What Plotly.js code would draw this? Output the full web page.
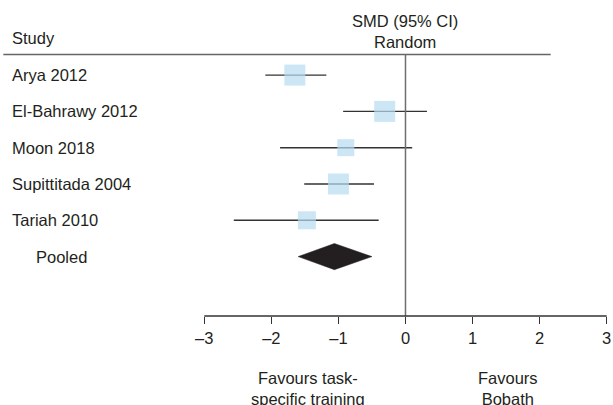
<!DOCTYPE html>
<html>
<head>
<meta charset="utf-8">
<script src="https://cdn.plot.ly/plotly-3.0.1.min.js"></script>
<style>html,body{margin:0;padding:0;background:#fff;}#chart{width:613px;height:405px;}</style>
</head>
<body>
<div id="chart"></div>
<script>
// ---- data ----
const studies = ["Arya 2012", "El-Bahrawy 2012", "Moon 2018", "Supittitada 2004", "Tariah 2010"];
const smd     = [-1.65, -0.31, -0.89, -1.00, -1.47];
const ciLow   = [-2.09, -0.93, -1.87, -1.51, -2.56];
const ciHigh  = [-1.18,  0.32,  0.10, -0.47, -0.40];
const squareSizes = [21, 21, 17, 21, 18];
const pooledLabel = "Pooled";
const pooledSMD  = -1.06;
const pooledLow  = -1.60;
const pooledHigh = -0.50;
const tickVals  = [-3, -2, -1, 0, 1, 2, 3];
const tickText  = ["\u20133", "\u20132", "\u20131", "0", "1", "2", "3"];
const leftFavour  = "Favours task-<br>specific training";
const rightFavour = "Favours<br>Bobath";

// ---- build ----
const FONT = "Liberation Sans, Arial, sans-serif";
const FS = 16.5;
const TXT = "#231f20";
const rows = studies.map((_, i) => i);
const pooledRow = studies.length;

const traces = [];
// CI lines
const lx = [], ly = [];
rows.forEach(i => { lx.push(ciLow[i], ciHigh[i], null); ly.push(i, i, null); });
traces.push({type: "scatter", mode: "lines", x: lx, y: ly,
  line: {color: "#333333", width: 1.4}, hoverinfo: "skip", showlegend: false});
// squares
traces.push({type: "scatter", mode: "markers", x: smd, y: rows,
  marker: {symbol: "square", size: squareSizes, color: "#b8dbf1", line: {width: 0}},
  showlegend: false});
// pooled diamond
const h = 0.36;
traces.push({type: "scatter", mode: "lines", fill: "toself",
  x: [pooledLow, pooledSMD, pooledHigh, pooledSMD, pooledLow],
  y: [pooledRow, pooledRow - h, pooledRow, pooledRow + h, pooledRow],
  line: {color: "#231f20", width: 0.5}, fillcolor: "#231f20", showlegend: false});

const annotations = [];
studies.forEach((s, i) => annotations.push({
  text: s, xref: "paper", x: 0.0165, xanchor: "left", yref: "y", y: i, yanchor: "middle",
  showarrow: false, font: {family: FONT, size: FS, color: TXT}}));
annotations.push({text: pooledLabel, xref: "paper", x: 0.0555, xanchor: "left",
  yref: "y", y: pooledRow, yanchor: "middle", showarrow: false,
  font: {family: FONT, size: FS, color: TXT}});
annotations.push({text: "Study", xref: "paper", x: 0.0165, xanchor: "left",
  yref: "y", y: -1.01, yanchor: "middle", showarrow: false,
  font: {family: FONT, size: FS, color: TXT}});
annotations.push({text: "SMD (95% CI)<br>Random", xref: "x", x: 0, xanchor: "center",
  yref: "y", y: -1.19, yanchor: "middle", showarrow: false,
  font: {family: FONT, size: FS, color: TXT}});
annotations.push({text: leftFavour, xref: "x", x: -1.45, xanchor: "center",
  yref: "paper", y: -0.228, yanchor: "middle", showarrow: false,
  font: {family: FONT, size: FS, color: TXT}});
annotations.push({text: rightFavour, xref: "x", x: 1.53, xanchor: "center",
  yref: "paper", y: -0.228, yanchor: "middle", showarrow: false,
  font: {family: FONT, size: FS, color: TXT}});

const shapes = [
  // header rule
  {type: "line", xref: "paper", x0: 0.0054, x1: 0.8984, yref: "y", y0: -0.57, y1: -0.57,
   line: {color: "#666666", width: 1.5}},
  // null line
  {type: "line", xref: "x", x0: 0, x1: 0, yref: "y", y0: -0.57, y1: 6.636,
   line: {color: "#6e6e6e", width: 1.5}},
  // axis line
  {type: "line", xref: "x", x0: tickVals[0], x1: tickVals[tickVals.length - 1],
   yref: "paper", y0: 0, y1: 0, line: {color: "#333333", width: 1.4}}
];

const layout = {
  width: 613, height: 405,
  margin: {l: 0, r: 0, t: 0, b: 89, pad: 0},
  paper_bgcolor: "#fff", plot_bgcolor: "#fff",
  showlegend: false,
  xaxis: {range: [-6.046, 3.094], tickvals: tickVals, ticktext: tickText,
    ticks: "outside", ticklen: 7, tickwidth: 1.4, tickcolor: "#333333",
    showgrid: false, zeroline: false, showline: false,
    tickfont: {family: FONT, size: FS, color: TXT}, fixedrange: true},
  yaxis: {range: [6.636, -2.068], visible: false, showgrid: false, zeroline: false, fixedrange: true},
  annotations: annotations,
  shapes: shapes,
  font: {family: FONT}
};

Plotly.newPlot("chart", traces, layout, {staticPlot: true, displayModeBar: false});
</script>
</body>
</html>
